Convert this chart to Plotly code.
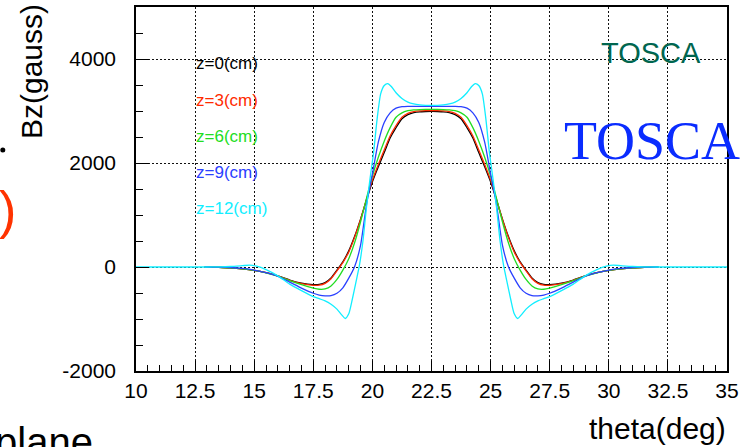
import plotly.graph_objects as go

# ---------------- data ----------------
theta_main = [12.9, 13.5, 14, 14.5, 15, 15.5, 16, 16.5, 17, 17.5, 17.75, 18, 18.25, 18.5, 18.75,
              19, 19.25, 19.5, 19.75, 20, 20.25, 20.5, 20.75, 21, 21.25, 21.5, 21.75, 22, 22.25, 22.5,
              22.75, 23, 23.25, 23.5, 23.75, 24, 24.25, 24.5, 24.75, 25, 25.25, 25.5, 25.75, 26, 26.25,
              26.5, 26.75, 27, 27.25, 27.5, 28, 28.5, 29, 29.5, 30, 30.5, 31, 31.5, 32.1]

bz_z0 = [0, -5, -15, -35, -65, -110, -170, -250, -310, -338, -335, -300, -210, -60, 100,
         310, 590, 920, 1290, 1640, 1930, 2200, 2480, 2680, 2850, 2930, 2970, 2985, 2990, 2992,
         2990, 2985, 2970, 2930, 2850, 2680, 2480, 2200, 1930, 1640, 1290, 920, 590, 310, 100,
         -60, -210, -300, -335, -338, -310, -250, -170, -110, -65, -35, -15, -5, 0]

bz_z3 = [0, -5, -15, -35, -65, -110, -172, -255, -320, -352, -350, -315, -225, -75, 85,
         290, 575, 915, 1300, 1670, 1970, 2250, 2520, 2720, 2880, 2955, 2990, 3003, 3008, 3010,
         3008, 3003, 2990, 2955, 2880, 2720, 2520, 2250, 1970, 1670, 1300, 915, 575, 290, 85,
         -75, -225, -315, -350, -352, -320, -255, -172, -110, -65, -35, -15, -5, 0]

bz_z6 = [0, -5, -15, -35, -65, -112, -175, -262, -340, -405, -428, -422, -365, -240, -60,
         160, 470, 870, 1320, 1750, 2110, 2420, 2680, 2880, 2965, 3005, 3022, 3028, 3030, 3030,
         3030, 3028, 3022, 3005, 2965, 2880, 2680, 2420, 2110, 1750, 1320, 870, 470, 160, -60,
         -240, -365, -422, -428, -405, -340, -262, -175, -112, -65, -35, -15, -5, 0]

bz_z9 = [0, -3, -10, -28, -58, -110, -180, -290, -405, -505, -540, -555, -550, -505, -400,
         -215, 10, 420, 1200, 1790, 2400, 2780, 2965, 3055, 3083, 3090, 3090, 3090, 3090, 3090,
         3090, 3090, 3090, 3090, 3083, 3055, 2965, 2780, 2400, 1790, 1200, 420, 10, -215, -400,
         -505, -550, -555, -540, -505, -405, -290, -180, -110, -58, -28, -10, -3, 0]

theta_z12 = [10, 11, 12, 13, 13.5, 14, 14.5, 14.8, 15.1, 15.5, 16, 16.5, 17, 17.5, 17.75, 18,
             18.25, 18.5, 18.7, 18.85, 19, 19.15, 19.3, 19.45, 19.6, 19.75, 19.9, 20.05, 20.2,
             20.35, 20.5, 20.65, 20.8, 21, 21.25, 21.5, 21.75, 22, 22.25, 22.5,
             22.75, 23, 23.25, 23.5, 23.75, 24, 24.2, 24.35, 24.5, 24.65, 24.8, 24.95, 25.1,
             25.25, 25.4, 25.55, 25.7, 25.85, 26, 26.15, 26.3, 26.5, 26.75, 27, 27.25, 27.5,
             28, 28.5, 29, 29.5, 29.9, 30.2, 30.5, 31, 31.5, 32, 33, 34, 35]

bz_z12 = [0, 0, 0, 0, 3, 10, 25, 35, 15, -50, -170, -330, -455, -570, -610, -650,
          -715, -810, -920, -990, -900, -620, -300, 30, 500, 1150, 1700, 2200, 2850,
          3330, 3490, 3527, 3470, 3350, 3240, 3170, 3135, 3118, 3110, 3108,
          3110, 3118, 3135, 3170, 3240, 3350, 3470, 3527, 3490, 3330, 2850, 2200, 1700,
          1150, 500, 30, -300, -620, -900, -990, -920, -810, -715, -650, -610, -570,
          -455, -330, -170, -50, 15, 35, 25, 10, 3, 0, 0, 0, 0]

series_labels = ["z=0(cm)", "z=3(cm)", "z=6(cm)", "z=9(cm)", "z=12(cm)"]
series_colors = ["#000000", "#ff2a00", "#22dd22", "#2a40ff", "#11eeff"]

x_tick_vals = [10, 12.5, 15, 17.5, 20, 22.5, 25, 27.5, 30, 32.5, 35]
x_tick_text = ["10", "12.5", "15", "17.5", "20", "22.5", "25", "27.5", "30", "32.5", "35"]
y_tick_vals = [-2000, 0, 2000, 4000]
y_tick_text = ["-2000", "0", "2000", "4000"]

# ---------------- geometry helpers (pixels -> paper) ----------------
W, H = 747, 447
L, R, T, B = 136, 727, 7, 371


def px(x):
    return (x - L) / (R - L)


def py(y):
    return (B - y) / (B - T)


FONT = "Liberation Sans, Arial, Helvetica, sans-serif"

fig = go.Figure()
xs = [theta_main, theta_main, theta_main, theta_main, theta_z12]
ys = [bz_z0, bz_z3, bz_z6, bz_z9, bz_z12]
for xv, yv, name, col in zip(xs, ys, series_labels, series_colors):
    fig.add_trace(go.Scatter(x=xv, y=yv, mode="lines", name=name,
                             line=dict(color=col, width=1.3, shape="spline", smoothing=0.6),
                             showlegend=False))

grid_dash = "2px,2px"
fig.update_xaxes(range=[10, 35], tickmode="array", tickvals=x_tick_vals, ticktext=x_tick_text,
                 ticks="inside", ticklen=10, tickwidth=1, tickcolor="black",
                 minor=dict(dtick=0.5, tick0=10, ticks="inside", ticklen=6, tickcolor="black",
                            tickwidth=1, showgrid=False),
                 showgrid=True, gridcolor="#111111", gridwidth=1.4, griddash=grid_dash,
                 showline=True, linecolor="black", linewidth=1.5, mirror=True,
                 zeroline=False, tickfont=dict(family=FONT, size=21, color="black"),
                 ticklabelstandoff=0, automargin=False)
fig.update_yaxes(range=[-2000, 5000], tickmode="array", tickvals=y_tick_vals, ticktext=y_tick_text,
                 ticks="inside", ticklen=13, tickwidth=1, tickcolor="black",
                 minor=dict(dtick=500, tick0=0, ticks="inside", ticklen=7, tickcolor="black",
                            tickwidth=1, showgrid=False),
                 showgrid=True, gridcolor="#111111", gridwidth=1.4, griddash=grid_dash,
                 showline=True, linecolor="black", linewidth=1.5, mirror=True,
                 zeroline=False, tickfont=dict(family=FONT, size=21, color="black"),
                 ticklabelstandoff=14, automargin=False)

annotations = []
# series labels inside the plot
label_y = [63, 100, 137, 172, 208]
for txt, col, yy in zip(series_labels, series_colors, label_y):
    annotations.append(dict(x=px(194), y=py(yy), xref="paper", yref="paper", text=txt,
                            showarrow=False, xanchor="left", yanchor="middle",
                            font=dict(family=FONT, size=17, color=col)))
# TOSCA labels
annotations.append(dict(x=px(651), y=py(53), xref="paper", yref="paper", text="TOSCA",
                        showarrow=False, xanchor="center", yanchor="middle",
                        font=dict(family=FONT, size=29, color="#00664f")))
annotations.append(dict(x=px(652), y=py(141), xref="paper", yref="paper", text="TOSCA",
                        showarrow=False, xanchor="center", yanchor="middle",
                        font=dict(family="Liberation Serif, Times New Roman, serif", size=54,
                                  color="#0a2cff")))
# axis titles
annotations.append(dict(x=px(728), y=py(429), xref="paper", yref="paper", text="theta(deg)",
                        showarrow=False, xanchor="right", yanchor="middle",
                        font=dict(family=FONT, size=30, color="black")))
annotations.append(dict(x=px(31), y=py(72), xref="paper", yref="paper", text="Bz(gauss)",
                        showarrow=False, xanchor="center", yanchor="middle", textangle=-90,
                        font=dict(family=FONT, size=30, color="black")))
# fragments of the surrounding slide
annotations.append(dict(x=px(-3), y=py(210), xref="paper", yref="paper", text=")",
                        showarrow=False, xanchor="left", yanchor="middle",
                        font=dict(family=FONT, size=52, color="#ff3300")))
annotations.append(dict(x=px(-7), y=py(442), xref="paper", yref="paper", text="plane",
                        showarrow=False, xanchor="left", yanchor="middle",
                        font=dict(family=FONT, size=40, color="black")))

shapes = [dict(type="circle", xref="paper", yref="paper", x0=px(0.3), x1=px(5.3),
               y0=py(152.5), y1=py(147.5), fillcolor="black", line=dict(width=0))]

fig.update_layout(width=W, height=H, margin=dict(l=L, r=W - R, t=T, b=H - B),
                  paper_bgcolor="white", plot_bgcolor="white",
                  annotations=annotations, shapes=shapes, showlegend=False)

fig.write_html("out.html", config={"displayModeBar": False},
               post_script="document.body.style.margin='0';document.body.style.overflow='hidden';")
